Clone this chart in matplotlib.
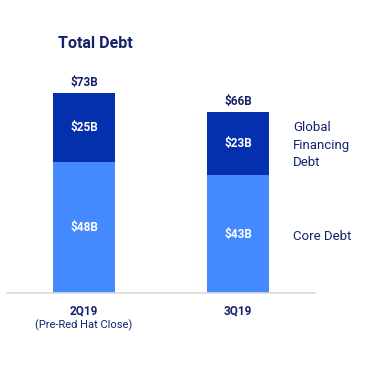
import matplotlib
matplotlib.use("Agg")
import matplotlib.pyplot as plt
import numpy as np

# data
quarters = ["2Q19", "3Q19"]
sublabels = ["(Pre-Red Hat Close)", ""]
core_debt = [48, 43]
financing_debt = [25, 23]
totals = [73, 66]

core_color = "#4589ff"
fin_color = "#0530ad"
text_color = "#15226b"

plt.rcParams['font.family'] = ['Roboto', 'DejaVu Sans']

fig = plt.figure(figsize=(3.73, 3.74), dpi=100)
ax = fig.add_axes([7 / 373, 81 / 374, 308 / 373, 219 / 374])

x = np.arange(len(quarters))
width = 0.4
ax.bar(x, core_debt, width, color=core_color)
ax.bar(x, financing_debt, width, bottom=core_debt, color=fin_color)

for i in range(len(quarters)):
    ax.text(x[i], core_debt[i] / 2, f"${core_debt[i]}B", ha="center", va="center",
            color="white", fontsize=8.5, fontweight="bold")
    ax.text(x[i], core_debt[i] + financing_debt[i] / 2, f"${financing_debt[i]}B",
            ha="center", va="center", color="white", fontsize=8.5, fontweight="bold")
    ax.text(x[i], totals[i] + 1.5, f"${totals[i]}B", ha="center", va="bottom",
            color=text_color, fontsize=8.5, fontweight="bold")
    ax.text(x[i], -6.6, quarters[i], ha="center", va="center",
            color=text_color, fontsize=8.5, fontweight="bold")
    if sublabels[i]:
        ax.text(x[i], -11.9, sublabels[i], ha="center", va="center",
                color=text_color, fontsize=8)

ax.set_xlim(-0.5, 1.5)
ax.set_ylim(0, 80)
for s in ["top", "right", "left"]:
    ax.spines[s].set_visible(False)
ax.spines["bottom"].set_color("#d9d9d9")
ax.spines["bottom"].set_linewidth(1.2)
ax.set_xticks([])
ax.set_yticks([])

fig.text(293 / 373, 1 - 145 / 374, "Global\nFinancing\nDebt", ha="left", va="center",
         color=text_color, fontsize=9.5, linespacing=1.45)
fig.text(293 / 373, 1 - 236 / 374, "Core Debt", ha="left", va="center",
         color=text_color, fontsize=9.5)
fig.text(95 / 373, 1 - 44 / 374, "Total Debt", ha="center", va="center",
         color=text_color, fontsize=11.5, fontweight="bold")

fig.savefig("out.png", dpi=100)
